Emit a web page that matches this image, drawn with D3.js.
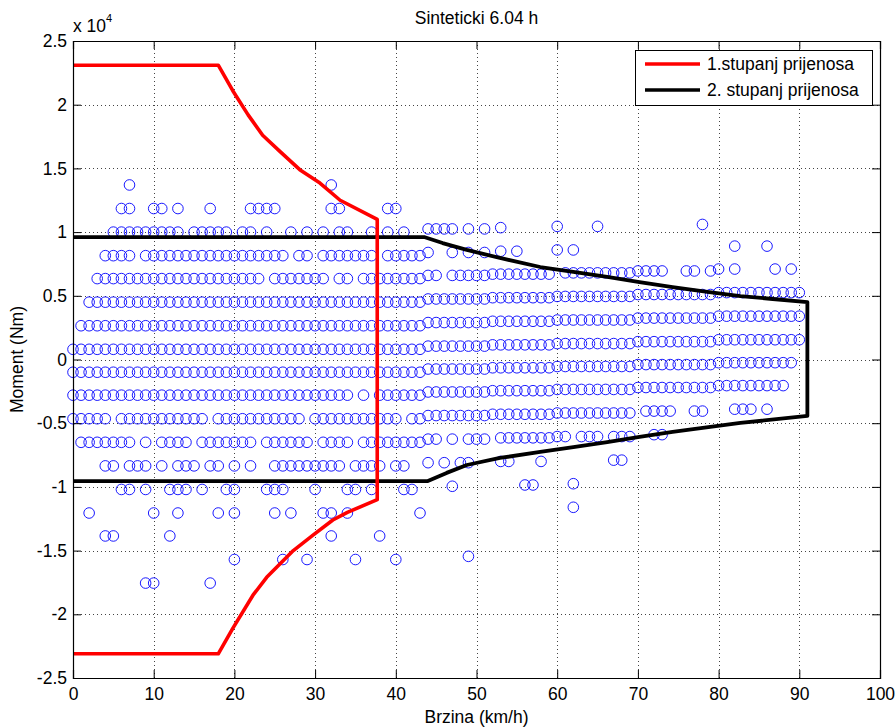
<!DOCTYPE html>
<html>
<head>
<meta charset="utf-8">
<script src="https://cdn.jsdelivr.net/npm/d3@7"></script>
<style>
  body { margin: 0; background: #fff; }
  svg { display: block; font-family: "Liberation Sans", Arial, sans-serif; }
</style>
</head>
<body>
<svg id="chart" width="896" height="728"></svg>
<script>
// torque rows (Nm) of the measured points, read at low speed
const torqueLevels = [13700, 11850, 10000, 8150, 6350, 4500, 2650, 800, -1000, -2800,
    -4650, -6500, -8350, -10200, -12050, -13850, -15700, -17550];

// speeds (km/h) present in each torque row
const rowSpeeds = [
    [7, 32],
    [6, 7, 10, 11, 13, 17, 22, 23, 24, 25, 32, 33, 39, 40],
    [5, 6, 7, 8, 9, 10, 11, 12, 13, 15, 16, 17, 18, 19, 21, 22, 24, 27, 29, 31, 33, 34, 37, 39, 41, 44, 45, 46, 47, 49, 51, 53, 60, 65, 78],
    [4, 5, 6, 7, 9, 10, 11, 12, 13, 14, 15, 16, 17, 18, 19, 20, 21, 22, 23, 24, 25, 26, 28, 29, 31, 32, 33, 34, 35, 36, 37, 39, 40, 41, 42, 43, 44, 47, 49, 51, 53, 55, 60, 62, 82, 86],
    [3, 4, 5, 6, 7, 8, 9, 10, 11, 12, 13, 14, 15, 16, 17, 18, 19, 20, 21, 22, 23, 25, 26, 27, 28, 29, 30, 31, 33, 34, 36, 37, 38, 39, 40, 41, 42, 43, 44, 45, 47, 48, 49, 50, 51, 52, 53, 54, 55, 56, 57, 58, 59, 61, 62, 63, 64, 65, 66, 67, 68, 69, 70, 71, 72, 73, 76, 77, 79, 80, 82, 87, 89],
    [2, 3, 4, 5, 6, 7, 8, 9, 10, 11, 12, 13, 14, 15, 16, 17, 18, 19, 20, 21, 22, 23, 24, 25, 26, 27, 28, 29, 30, 31, 32, 33, 34, 35, 36, 37, 38, 39, 40, 41, 42, 43, 44, 45, 46, 47, 48, 49, 50, 51, 52, 53, 54, 55, 56, 57, 58, 59, 60, 61, 62, 63, 64, 65, 66, 67, 68, 69, 70, 71, 72, 73, 74, 75, 76, 77, 78, 79, 80, 81, 82, 83, 84, 85, 86, 87, 88, 89, 90],
    [1, 2, 3, 4, 5, 6, 7, 8, 9, 10, 11, 12, 13, 14, 15, 16, 17, 18, 19, 20, 21, 22, 23, 24, 25, 26, 27, 28, 29, 30, 31, 32, 33, 34, 35, 36, 37, 38, 39, 40, 41, 42, 43, 44, 45, 46, 47, 48, 49, 50, 51, 52, 53, 54, 55, 56, 57, 58, 59, 60, 61, 62, 63, 64, 65, 66, 67, 68, 69, 70, 71, 72, 73, 74, 75, 76, 77, 78, 79, 80, 81, 82, 83, 84, 85, 86, 87, 88, 89, 90],
    [0, 1, 2, 3, 4, 5, 6, 7, 8, 9, 10, 11, 12, 13, 14, 15, 16, 17, 18, 19, 20, 21, 22, 23, 24, 25, 26, 27, 28, 29, 30, 31, 32, 33, 34, 35, 36, 37, 38, 39, 40, 41, 42, 43, 44, 45, 46, 47, 48, 49, 50, 51, 52, 53, 54, 55, 56, 57, 58, 59, 60, 61, 62, 63, 64, 65, 66, 67, 68, 69, 70, 71, 72, 73, 74, 75, 76, 77, 78, 79, 80, 81, 82, 83, 84, 85, 86, 87, 88, 89, 90],
    [0, 1, 2, 3, 4, 5, 6, 7, 8, 9, 10, 11, 12, 13, 14, 15, 16, 17, 18, 19, 20, 21, 22, 23, 24, 25, 26, 27, 28, 29, 30, 31, 32, 33, 34, 35, 36, 37, 38, 39, 40, 41, 42, 43, 44, 45, 46, 47, 48, 49, 50, 51, 52, 53, 54, 55, 56, 57, 58, 59, 60, 61, 62, 63, 64, 65, 66, 67, 68, 69, 70, 71, 72, 73, 74, 75, 76, 77, 78, 79, 80, 81, 82, 83, 84, 85, 86, 87, 88, 89],
    [0, 1, 2, 3, 4, 5, 6, 7, 8, 9, 10, 11, 12, 13, 14, 15, 16, 17, 18, 19, 20, 21, 22, 23, 24, 25, 26, 27, 28, 29, 30, 31, 32, 33, 34, 36, 38, 39, 40, 41, 42, 43, 44, 45, 46, 47, 48, 49, 50, 51, 52, 53, 54, 55, 56, 57, 58, 59, 60, 61, 62, 63, 64, 65, 66, 67, 68, 69, 70, 71, 72, 73, 74, 75, 76, 77, 78, 79, 80, 81, 82, 83, 84, 85, 86, 87, 88],
    [0, 1, 2, 3, 4, 6, 7, 8, 9, 10, 11, 12, 13, 14, 15, 16, 18, 19, 20, 21, 22, 23, 24, 25, 26, 27, 28, 30, 31, 32, 33, 34, 35, 36, 37, 38, 39, 40, 42, 43, 44, 45, 46, 47, 48, 49, 50, 51, 52, 53, 54, 55, 56, 57, 58, 59, 60, 61, 62, 63, 64, 65, 66, 67, 68, 69, 71, 72, 73, 74, 77, 78, 82, 83, 84, 86],
    [1, 2, 3, 4, 5, 6, 7, 9, 11, 12, 13, 14, 16, 17, 18, 19, 20, 21, 22, 24, 25, 26, 27, 28, 29, 31, 32, 33, 34, 36, 37, 38, 39, 40, 41, 42, 43, 44, 45, 47, 49, 50, 51, 53, 54, 55, 56, 57, 58, 59, 60, 61, 63, 64, 65, 67, 68, 69, 72, 73],
    [4, 5, 7, 8, 9, 11, 13, 14, 15, 17, 18, 20, 22, 25, 26, 27, 28, 29, 30, 31, 32, 33, 35, 36, 37, 38, 40, 41, 44, 46, 48, 49, 53, 54, 58, 67, 68],
    [6, 7, 9, 12, 13, 14, 16, 19, 20, 24, 25, 26, 30, 34, 35, 37, 41, 42, 47, 56, 57, 62],
    [2, 10, 13, 18, 20, 25, 27, 31, 32, 34, 43, 62],
    [4, 5, 12, 32, 38],
    [20, 26, 29, 35, 40, 49],
    [9, 10, 17]
];

// the rows rise slightly with speed: offset (Nm) read per speed band
const bandStart = [0, 44, 52, 60, 70, 80];
const bandShift = [0, 250, 350, 450, 600, 750];

// 1st gear limit curve [speed, torque]
const gear1 = [[0, 23100], [18, 23100], [19.8, 21100], [21.7, 19200], [23.5, 17600], [25.7, 16300],
    [28.1, 14900], [30.6, 13850], [33.1, 12500], [37.7, 11000], [37.7, -11000], [34, -12000],
    [32.2, -12600], [29.7, -13800], [27.3, -15000], [24, -17100], [22.3, -18500], [19.8, -21100],
    [18, -23100], [0, -23100]];

// 2nd gear limit curve [speed, torque]
const gear2 = [[0, 9600], [43.6, 9600], [45.8, 9140], [48.8, 8600], [52.9, 7970], [57.9, 7260],
    [62, 6870], [66.2, 6480], [70.2, 6080], [74.3, 5690], [78.6, 5300], [82.7, 4980], [86.7, 4750],
    [91, 4510], [91, -4430], [82.7, -4980], [74.3, -5690], [70.2, -6080], [66.2, -6480], [62, -6870],
    [57.9, -7260], [52.9, -7730], [48.8, -8280], [46.3, -8900], [43.9, -9550], [0, -9550]];

const xTicks = [0, 10, 20, 30, 40, 50, 60, 70, 80, 90, 100];
const yTicks = [-25000, -20000, -15000, -10000, -5000, 0, 5000, 10000, 15000, 20000, 25000];
const legendNames = ["1.stupanj prijenosa", "2. stupanj prijenosa"];
const legendColors = ["#ff0000", "#000000"];

const plot = { left: 73, right: 880, top: 41, bottom: 678 };
const fontSize = 17.5;

const svg = d3.select("#chart");

const x = d3.scaleLinear().domain([0, 100]).range([plot.left, plot.right]);
const y = d3.scaleLinear().domain([-25000, 25000]).range([plot.bottom, plot.top]);

// grid
const grid = svg.append("g")
    .attr("stroke", "#444")
    .attr("stroke-width", 1)
    .attr("stroke-dasharray", "1,3");
grid.selectAll("line.gx")
    .data(xTicks.slice(1, -1))
    .join("line")
    .attr("x1", d => Math.round(x(d)) + 0.5)
    .attr("x2", d => Math.round(x(d)) + 0.5)
    .attr("y1", plot.top)
    .attr("y2", plot.bottom);
grid.selectAll("line.gy")
    .data(yTicks.slice(1, -1))
    .join("line")
    .attr("x1", plot.left)
    .attr("x2", plot.right)
    .attr("y1", d => Math.round(y(d)) + 0.5)
    .attr("y2", d => Math.round(y(d)) + 0.5);

// scatter points
const bandOf = s => {
    let b = 0;
    bandStart.forEach((v, i) => { if (s >= v) b = i; });
    return b;
};
const points = [];
rowSpeeds.forEach((speeds, r) => {
    speeds.forEach(s => points.push([s, torqueLevels[r] + bandShift[bandOf(s)]]));
});

svg.append("g")
    .selectAll("circle")
    .data(points)
    .join("circle")
    .attr("cx", d => x(d[0]))
    .attr("cy", d => y(d[1]))
    .attr("r", 5.3)
    .attr("fill", "none")
    .attr("stroke", "#0000ff")
    .attr("stroke-width", 0.9);

// limit curves
const line = d3.line().x(d => x(d[0])).y(d => y(d[1]));
svg.append("path")
    .datum(gear2)
    .attr("d", line)
    .attr("fill", "none")
    .attr("stroke", legendColors[1])
    .attr("stroke-width", 3.8)
    .attr("stroke-linejoin", "round");
svg.append("path")
    .datum(gear1)
    .attr("d", line)
    .attr("fill", "none")
    .attr("stroke", legendColors[0])
    .attr("stroke-width", 3.6)
    .attr("stroke-linejoin", "round");

// axes with inward ticks
const fmtY = d => String(d / 10000);
svg.append("g")
    .attr("transform", `translate(0,${plot.bottom})`)
    .call(d3.axisBottom(x).tickValues(xTicks).tickSize(-8).tickPadding(10).tickFormat(d => String(d)));
svg.append("g")
    .attr("transform", `translate(0,${plot.top})`)
    .call(d3.axisTop(x).tickValues(xTicks).tickSize(-8).tickFormat(""));
svg.append("g")
    .attr("transform", `translate(${plot.left},0)`)
    .call(d3.axisLeft(y).tickValues(yTicks).tickSize(-8).tickPadding(6).tickFormat(fmtY));
svg.append("g")
    .attr("transform", `translate(${plot.right},0)`)
    .call(d3.axisRight(y).tickValues(yTicks).tickSize(-8).tickFormat(""));

svg.selectAll(".domain").attr("stroke", "#000").attr("stroke-width", 1.2);
svg.selectAll(".tick line").attr("stroke", "#000");
svg.selectAll(".tick text")
    .attr("font-family", "'Liberation Sans', Arial, sans-serif")
    .attr("font-size", fontSize)
    .attr("fill", "#000");

// exponent label
const expo = svg.append("text")
    .attr("x", plot.left)
    .attr("y", 32)
    .attr("font-size", fontSize);
expo.append("tspan").text("x 10");
expo.append("tspan").attr("font-size", 11).attr("dy", -10).text("4");

// title and labels
svg.append("text")
    .attr("x", (plot.left + plot.right) / 2)
    .attr("y", 24)
    .attr("text-anchor", "middle")
    .attr("font-size", fontSize)
    .text("Sinteticki 6.04 h");
svg.append("text")
    .attr("x", (plot.left + plot.right) / 2)
    .attr("y", 723)
    .attr("text-anchor", "middle")
    .attr("font-size", fontSize)
    .text("Brzina (km/h)");
svg.append("text")
    .attr("transform", `translate(23,${(plot.top + plot.bottom) / 2}) rotate(-90)`)
    .attr("text-anchor", "middle")
    .attr("font-size", fontSize)
    .text("Moment (Nm)");

// legend
const lg = svg.append("g");
lg.append("rect")
    .attr("x", 635.5)
    .attr("y", 50.5)
    .attr("width", 237)
    .attr("height", 55)
    .attr("fill", "#fff")
    .attr("stroke", "#000");
legendNames.forEach((name, i) => {
    const ly = 64 + i * 26;
    lg.append("line")
        .attr("x1", 645).attr("x2", 700)
        .attr("y1", ly).attr("y2", ly)
        .attr("stroke", legendColors[i])
        .attr("stroke-width", 3.4);
    lg.append("text")
        .attr("x", 707)
        .attr("y", ly)
        .attr("dy", "0.35em")
        .attr("font-size", fontSize)
        .text(name);
});
</script>
</body>
</html>
